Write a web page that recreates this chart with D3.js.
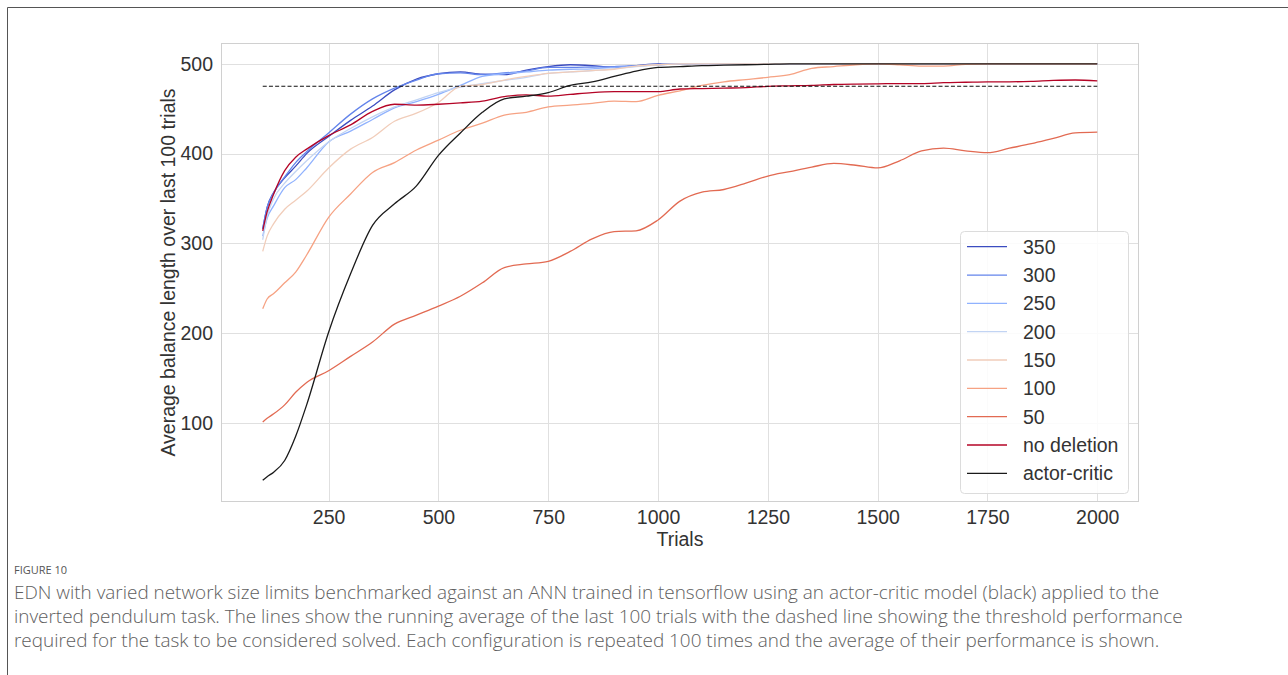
<!DOCTYPE html>
<html>
<head>
<meta charset="utf-8">
<script src="https://cdn.jsdelivr.net/npm/d3@7"></script>
<style>
  html, body { margin: 0; padding: 0; background: #fff; }
  svg { display: block; }
</style>
</head>
<body>
<svg id="chart" width="1288" height="675"></svg>
<script>
// ---- data ----
const trials = [100,110,125,150,175,200,250,300,350,400,450,500,550,600,650,700,750,800,850,900,950,1000,1050,1100,1150,1200,1250,1300,1350,1400,1450,1500,1550,1600,1650,1700,1750,1800,1850,1900,1950,2000];

const s350 = [316,340,357,373,386,400,419,437,453,471,483,489,491,488.5,488,493,497,499,498,496,498,500,500,500,500,500,500,500,500,500,500,500,500,500,500,500,500,500,500,500,500,500];
const s300 = [316,340,356,374,390,402,423,444,461,473,482,489,490,488,490,492,496,496,496.5,497,498,499,500,500,500,500,500,500,500,500,500,500,500,500,500,500,500,500,500,500,500,500];
const s250 = [308,328,342,362,371,384,413,425,438,451,458,466,476,486,489,491,493,494,494.5,496,497.5,499,500,500,500,500,500,500,500,500,500,500,500,500,500,500,500,500,500,500,500,500];
const s200 = [304,330,350,367,380,392,413,428,441,452,460,468,474,478,481.5,485,489.5,491,492.5,494.5,497,499,500,500,500,500,500,500,500,500,500,500,500,500,500,500,500,500,500,500,500,500];
const s150 = [291,308,322,338,348,358,384,405,418,436,445,457,475,477,482,486,489.5,491,492.5,494,497.5,499,500,500,500,500,500,500,500,500,500,500,500,500,500,500,500,500,500,500,500,500];
const s100 = [227,238,244,256,268,287,329,355,379,390,404,415,426,434,443,446,452,454,456,458.5,458,465,470,476,480,482.5,485,488,495,497,499,500,499,497.5,497.5,499.5,500,500,500,500,500,500];
const s50  = [101,105,110,120,134,145,158,174,190,210,220,230,241,256,273,277,280,291,305,313,314,326,347,357,360,367,375,380,385,389,387,384,392,403,406,403,401,406,411,417,423,424];
const noDeletion  = [314,335,355,381,396,405,420,432,447,455,454,455,456.5,458.5,463.5,465.5,464,466,468,469,469,469,472,472.5,473,473.5,475,475.5,476,477,477.5,477.8,478,478,479,479.5,480,480,480.5,481.5,482,481];
const actorCritic = [36,40,45,58,85,120,201,266,320,344,364,398,423,446,461,464,468,476,480,486,492,496,497,498,498.5,499,499.5,500,500,500,500,500,500,500,500,500,500,500,500,500,500,500];

const seriesNames = ["350","300","250","200","150","100","50","no deletion","actor-critic"];
const seriesValues = [s350, s300, s250, s200, s150, s100, s50, noDeletion, actorCritic];
const seriesColors = ["#3b4cc0","#6384eb","#90b2fe","#c2d4f3","#f1cdba","#f6a283","#e26a52","#b40426","#1a1a1a"];

const threshold = 475;
const xTicks = [250,500,750,1000,1250,1500,1750,2000];
const yTicks = [100,200,300,400,500];

const captionTitle = "FIGURE 10";
const captionLines = [
  "EDN with varied network size limits benchmarked against an ANN trained in tensorflow using an actor-critic model (black) applied to the",
  "inverted pendulum task. The lines show the running average of the last 100 trials with the dashed line showing the threshold performance",
  "required for the task to be considered solved. Each configuration is repeated 100 times and the average of their performance is shown."
];

// ---- layout ----
const svg = d3.select("#chart");
const plot = {left: 221, right: 1139, top: 43, bottom: 502};
const x = d3.scaleLinear().domain([5, 2095]).range([plot.left, plot.right]);
const y = d3.scaleLinear().domain([11.75, 523.25]).range([plot.bottom, plot.top]);
const font = "'Liberation Sans', Arial, sans-serif";
const fsz = 19.5;

// outer frame (left + top)
svg.append("line").attr("x1",7.5).attr("x2",7.5).attr("y1",7.5).attr("y2",675).attr("stroke","#555").attr("stroke-width",1);
svg.append("line").attr("x1",7.5).attr("x2",1288).attr("y1",7.5).attr("y2",7.5).attr("stroke","#555").attr("stroke-width",1);

// grid
const g = svg.append("g");
g.selectAll(".vg").data(xTicks).join("line")
  .attr("x1", d => Math.round(x(d))+0.5).attr("x2", d => Math.round(x(d))+0.5)
  .attr("y1", plot.top).attr("y2", plot.bottom)
  .attr("stroke", "#e0e0e0").attr("stroke-width", 1);
g.selectAll(".hg").data(yTicks).join("line")
  .attr("y1", d => Math.round(y(d))+0.5).attr("y2", d => Math.round(y(d))+0.5)
  .attr("x1", plot.left).attr("x2", plot.right)
  .attr("stroke", "#e0e0e0").attr("stroke-width", 1);

// axes (labels only, via d3 axis)
const xAxis = svg.append("g").attr("transform", `translate(0,${plot.bottom})`)
  .call(d3.axisBottom(x).tickValues(xTicks).tickSize(0).tickPadding(8).tickFormat(d3.format("d")));
const yAxis = svg.append("g").attr("transform", `translate(${plot.left},0)`)
  .call(d3.axisLeft(y).tickValues(yTicks).tickSize(0).tickPadding(8).tickFormat(d3.format("d")));
[xAxis, yAxis].forEach(a => {
  a.select(".domain").remove();
  a.selectAll("text").attr("font-family", font).attr("font-size", fsz).attr("fill", "#333");
});

// spines
svg.append("rect").attr("x", plot.left+0.5).attr("y", plot.top+0.5)
  .attr("width", plot.right-plot.left-1).attr("height", plot.bottom-plot.top-1)
  .attr("fill","none").attr("stroke","#d0d0d0").attr("stroke-width",1);

// axis titles
svg.append("text").attr("x", (plot.left+plot.right)/2).attr("y", 546)
  .attr("text-anchor","middle").attr("font-family",font).attr("font-size",fsz).attr("fill","#333").text("Trials");
svg.append("text").attr("transform", `translate(175,${(plot.top+plot.bottom)/2}) rotate(-90)`)
  .attr("text-anchor","middle").attr("font-family",font).attr("font-size",fsz).attr("fill","#333")
  .text("Average balance length over last 100 trials");

// lines
const line = d3.line().x(d => x(d[0])).y(d => y(d[1])).curve(d3.curveMonotoneX);
svg.append("clipPath").attr("id","clip").append("rect")
  .attr("x",plot.left).attr("y",plot.top).attr("width",plot.right-plot.left).attr("height",plot.bottom-plot.top);
const lg = svg.append("g").attr("clip-path","url(#clip)");
seriesValues.forEach((vals, i) => {
  lg.append("path").datum(trials.map((t, j) => [t, vals[j]]))
    .attr("d", line).attr("fill","none")
    .attr("stroke", seriesColors[i]).attr("stroke-width", 1.3)
    .attr("stroke-linejoin","round");
});

// threshold dashed line
lg.append("path").datum([[trials[0], threshold],[trials[trials.length-1], threshold]])
  .attr("d", d3.line().x(d => x(d[0])).y(d => y(d[1]))).attr("fill","none").attr("stroke","#111").attr("stroke-width",1.1)
  .attr("stroke-dasharray","4,2.2");

// legend
const leg = svg.append("g");
leg.append("rect").attr("x",960.5).attr("y",231.5).attr("width",168).attr("height",262).attr("rx",4)
  .attr("fill","#fff").attr("fill-opacity",0.85).attr("stroke","#dcdcdc");
seriesNames.forEach((name, i) => {
  const cy = 246.7 + i*28.33;
  leg.append("line").attr("x1",967).attr("x2",1007).attr("y1",cy).attr("y2",cy)
    .attr("stroke",seriesColors[i]).attr("stroke-width",1.3);
  leg.append("text").attr("x",1023).attr("y",cy+7).attr("font-family",font).attr("font-size",fsz)
    .attr("fill","#333").text(name);
});

// caption
const capFont = "'Open Sans', 'Noto Sans', sans-serif";
svg.append("text").attr("x",14).attr("y",574).attr("font-family",capFont).attr("font-size",11)
  .attr("fill","#555").text(captionTitle);
const capG = svg.append("g");
const capTexts = captionLines.map((t, i) =>
  capG.append("text").attr("x",14).attr("y",599 + i*24).attr("font-family",capFont)
    .attr("font-size",16).attr("font-weight",300).attr("fill","#5e5e5e").text(t));
// fit first line to reference width
const w0 = capTexts[0].node().getComputedTextLength();
const fs = 16 * 1146 / w0;
capTexts.forEach(t => t.attr("font-size", fs));
</script>
</body>
</html>
